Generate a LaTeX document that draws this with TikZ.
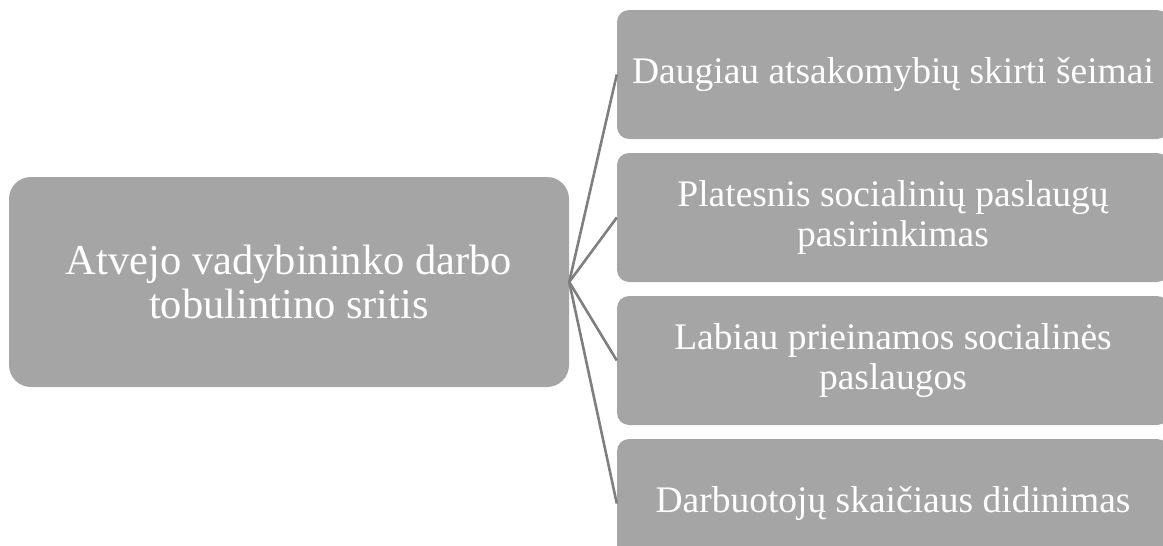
\documentclass[tikz,border=0pt]{standalone}
\usepackage{fontspec}
\setmainfont{Liberation Serif}
\usetikzlibrary{positioning}
\definecolor{boxgray}{HTML}{A5A5A5}
\definecolor{linegray}{HTML}{7F7F7F}
\tikzset{
  mainbox/.style={fill=boxgray, rounded corners=22pt,
              minimum width=560pt, minimum height=210pt,
              align=center, text=white, inner sep=0pt,
              font=\fontsize{42.5}{44}\selectfont},
  itembox/.style={fill=boxgray, rounded corners=12pt,
              minimum width=552pt, minimum height=129pt,
              align=center, text=white, inner sep=0pt,
              font=\fontsize{37.5}{40}\selectfont},
  linkline/.style={draw=linegray, line width=2.6pt},
}

\begin{document}
\begin{tikzpicture}[x=1pt, y=-1pt]
  \useasboundingbox (0,0) rectangle (1163,546);
  \clip (0,0) rectangle (1163,546);

  % Main area
  \node[mainbox] (area) at (289,282) {Atvejo vadybininko darbo\\tobulintino sritis};

  % Improvement items
  \node[itembox] (family)  at (893,74.5)  {Daugiau atsakomybių skirti šeimai};
  \node[itembox] (choice)  at (893,217.5) {Platesnis socialinių paslaugų\\pasirinkimas};
  \node[itembox] (access)  at (893,360.5) {Labiau prieinamos socialinės\\paslaugos};
  \node[itembox] (staff)   at (893,503.5) {Darbuotojų skaičiaus didinimas};

  % Links
  \foreach \item in {family, choice, access, staff}
    \draw[linkline] (area.east) -- (\item.west);
\end{tikzpicture}
\end{document}
